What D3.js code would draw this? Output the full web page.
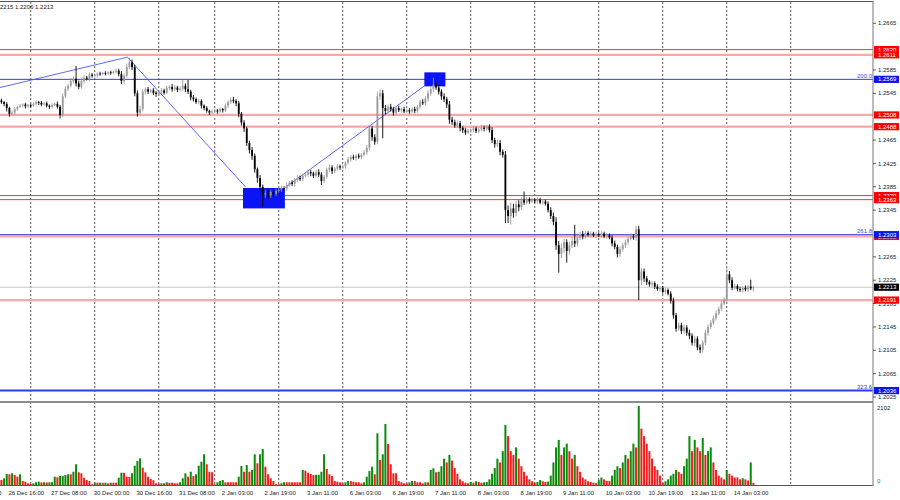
<!DOCTYPE html>
<html><head><meta charset="utf-8">
<script src="https://cdn.jsdelivr.net/npm/d3@7"></script>
<style>
body{margin:0;background:#fff}
svg{display:block}
text{font-family:"Liberation Sans",Arial,sans-serif;font-size:6px}
</style>
</head><body>
<svg id="c" width="900" height="500"></svg>
<script>
// ---------- DATA ----------
const sessions = [["26 Dec",0,23],["27 Dec",0,23],["30 Dec",0,23],["31 Dec",0,20],["2 Jan",0,23],["3 Jan",0,23],
  ["6 Jan",0,23],["7 Jan",0,23],["8 Jan",0,23],["9 Jan",0,23],["10 Jan",0,23],["13 Jan",0,23],["14 Jan",0,23],["15 Jan",0,0]];
const firstBar = "26 Dec 13:00";
const firstOpen = 1.2533;
const closes = [
 1.2530,1.2527,1.2520,1.2510,1.2512,1.2518,1.2522,1.2524,1.2526,1.2523,1.2525,
 1.2524,1.2527,1.2530,1.2529,1.2526,1.2528,1.2524,1.2522,1.2525,1.2527,1.2522,1.2508,1.2540,1.2553,1.2558,1.2566,1.2570,1.2562,1.2556,1.2566,1.2572,1.2570,1.2577,1.2575,
 1.2576,1.2579,1.2578,1.2580,1.2579,1.2581,1.2580,1.2582,1.2584,1.2578,1.2566,1.2575,1.2590,1.2598,1.2590,1.2545,1.2512,1.2518,1.2548,1.2552,1.2548,1.2550,1.2546,1.2544,
 1.2548,1.2550,1.2546,1.2554,1.2556,1.2552,1.2555,1.2551,1.2553,1.2558,1.2552,1.2548,1.2538,1.2535,1.2530,1.2532,1.2524,1.2520,1.2515,1.2512,1.2514,
 1.2516,1.2514,1.2518,1.2516,1.2524,1.2530,1.2534,1.2532,1.2528,1.2510,1.2495,1.2485,1.2460,1.2448,1.2438,1.2415,1.2400,1.2385,1.2372,1.2374,1.2370,1.2376,1.2373,1.2378,
 1.2380,1.2383,1.2382,1.2388,1.2392,1.2390,1.2397,1.2400,1.2398,1.2404,1.2406,1.2410,1.2408,1.2404,1.2410,1.2406,1.2395,1.2402,1.2414,1.2418,1.2412,1.2416,1.2420,1.2418,
 1.2420,1.2426,1.2432,1.2436,1.2434,1.2438,1.2436,1.2440,1.2444,1.2452,1.2485,1.2470,1.2462,1.2540,1.2545,1.2520,1.2515,1.2522,1.2518,1.2512,1.2520,1.2516,1.2518,1.2514,
 1.2516,1.2514,1.2518,1.2515,1.2522,1.2530,1.2528,1.2536,1.2545,1.2552,1.2560,1.2555,1.2548,1.2540,1.2535,1.2526,1.2500,1.2496,1.2490,1.2494,1.2486,1.2482,1.2478,1.2481,
 1.2482,1.2485,1.2480,1.2483,1.2486,1.2484,1.2488,1.2482,1.2465,1.2458,1.2460,1.2445,1.2440,1.2345,1.2335,1.2348,1.2340,1.2355,1.2350,1.2362,1.2358,1.2364,1.2360,1.2362,
 1.2360,1.2363,1.2358,1.2360,1.2356,1.2345,1.2335,1.2325,1.2285,1.2270,1.2280,1.2290,1.2275,1.2285,1.2292,1.2288,1.2298,1.2304,1.2300,1.2306,1.2303,1.2305,1.2302,1.2304,
 1.2302,1.2305,1.2300,1.2302,1.2298,1.2288,1.2282,1.2270,1.2278,1.2285,1.2290,1.2296,1.2300,1.2298,1.2312,1.2225,1.2240,1.2228,1.2222,1.2218,1.2220,1.2214,1.2210,1.2212,
 1.2205,1.2208,1.2202,1.2190,1.2165,1.2142,1.2148,1.2138,1.2144,1.2135,1.2130,1.2118,1.2125,1.2110,1.2106,1.2118,1.2135,1.2145,1.2152,1.2160,1.2168,1.2176,1.2185,1.2192,
 1.2235,1.2225,1.2212,1.2215,1.2210,1.2208,1.2212,1.2209,1.2214,1.2211,1.2213];
// upper / lower wick lengths in pips
const wickUp = [
 3,2,3,2,4,3,2,3,2,3,2,
 2,3,3,2,3,2,3,2,3,2,4,3,5,4,3,6,4,22,5,6,4,3,4,3,
 3,2,3,2,3,2,3,2,4,3,5,4,6,8,5,4,5,6,4,3,4,3,4,3,
 3,4,3,4,3,5,4,3,4,10,4,16,3,4,3,4,3,2,3,2,3,
 3,2,3,2,4,3,4,5,3,4,3,4,3,4,5,4,3,5,4,6,5,4,3,4,
 3,4,3,4,3,4,3,5,4,3,4,5,4,3,4,5,4,3,4,5,4,3,4,3,
 3,3,4,3,4,3,4,3,4,5,6,4,5,8,7,6,5,4,5,4,3,4,3,4,
 3,4,3,4,3,4,5,4,5,6,12,5,5,4,5,4,6,5,4,5,4,3,4,3,
 3,4,3,4,5,4,3,4,5,4,6,5,4,6,8,10,8,6,7,5,15,4,3,4,
 3,4,3,4,3,4,5,6,8,7,8,6,5,6,7,28,5,4,5,4,3,4,3,4,
 3,4,3,4,3,4,5,4,5,4,5,4,5,4,6,6,6,5,4,3,4,3,4,3,
 3,4,3,4,5,4,5,4,5,4,5,4,5,4,5,4,5,4,5,4,5,4,5,4,
 13,6,5,4,3,4,3,4,3,12,2];
const wickDn = [
 3,4,6,5,3,4,3,2,3,4,3,
 3,2,3,4,3,2,3,4,3,2,3,6,4,3,4,3,4,5,4,3,4,3,4,3,
 3,4,3,2,3,2,3,2,3,4,5,4,3,4,5,5,7,5,4,5,4,3,4,5,
 3,4,3,2,3,4,3,4,3,4,5,4,5,4,3,4,5,4,3,4,3,
 3,4,3,4,3,4,3,4,5,6,5,6,5,6,7,6,8,7,21,6,5,4,5,4,
 3,4,3,4,3,4,5,4,3,4,3,4,5,4,3,4,7,4,3,4,5,4,3,4,
 3,4,3,4,3,4,3,4,3,4,5,6,5,4,6,52,6,5,4,5,4,3,4,3,
 3,4,3,4,3,4,3,4,5,4,5,4,5,6,5,6,7,5,4,5,6,5,4,3,
 3,4,3,4,3,4,3,4,5,6,5,6,5,22,12,15,8,6,7,5,4,3,4,3,
 3,4,3,4,3,4,5,6,8,32,7,8,20,6,5,6,5,4,5,4,3,4,3,4,
 3,4,3,4,3,5,4,6,5,4,5,4,3,4,5,34,8,6,5,4,5,4,3,4,
 3,4,3,5,6,5,4,5,4,5,6,5,6,5,6,5,4,5,4,3,4,3,4,3,
 4,5,4,3,4,3,4,3,4,3,5];
const volumes = [
 133,178,293,285,311,266,221,285,106,88,45,
 27,45,72,88,70,74,68,72,75,221,205,239,240,266,285,285,354,551,338,311,194,133,106,19,
 61,61,62,60,61,45,61,61,61,194,327,325,221,218,311,513,638,710,460,338,221,160,125,45,
 40,45,45,72,60,60,45,45,72,178,311,221,354,239,285,513,620,817,551,354,338,
 19,72,106,133,72,72,72,72,72,221,505,354,532,354,399,817,577,817,958,487,285,178,106,19,
 19,45,72,72,72,72,72,72,72,399,380,327,293,266,270,272,354,817,426,285,239,106,88,72,
 45,72,106,106,88,72,72,45,72,221,372,487,285,1375,665,817,1623,1091,551,311,311,106,72,45,
 45,72,106,106,72,72,45,72,72,399,444,338,354,500,700,600,800,650,450,300,150,100,60,45,
 80,60,100,80,60,70,80,150,300,450,700,600,900,1600,1300,900,800,1000,700,500,350,250,150,100,
 60,80,130,100,80,90,250,600,1000,1200,800,1000,1100,900,700,800,500,350,200,150,100,80,60,50,
 130,200,150,110,110,250,400,500,450,600,800,700,900,1100,1000,2102,1500,1300,1100,900,700,500,400,250,
 60,100,150,250,300,400,350,300,500,700,1300,900,1200,1000,900,1250,800,900,1000,600,400,250,200,150,
 400,300,250,200,200,150,180,150,120,600,60];
const timeLabels = ["26 Dec 00:00","26 Dec 16:00","27 Dec 08:00","30 Dec 00:00","30 Dec 16:00","31 Dec 08:00",
 "2 Jan 03:00","2 Jan 19:00","3 Jan 11:00","6 Jan 03:00","6 Jan 19:00","7 Jan 11:00","8 Jan 03:00","8 Jan 19:00",
 "9 Jan 11:00","10 Jan 03:00","10 Jan 19:00","13 Jan 11:00","14 Jan 03:00"];
// visible price-axis ticks (those hidden under level tags are omitted)
const priceTicks = [1.2665,1.2585,1.2545,1.2465,1.2425,1.2385,1.2345,1.2265,1.2225,1.2185,1.2145,1.2105,1.2065,1.2025];
const levelPrices = [1.2620,1.2611,1.2569,1.2508,1.2488,1.2370,1.2363,1.2300,1.2303,1.2213,1.2191,1.2036];
const levelKinds  = ["red","pink","blue","pink","pink","red","red","pink","blue","current","pink","blueThick"];
const fibLabels = ["200.0","261.8","323.6"];
const fibLabelPrices = [1.2569,1.2303,1.2036];
// zigzag anchors: bar offset from first bar, price
const zigBars   = [-0.5, 47.3, 91.5, 106.5, 159];
const zigPrices = [1.2555, 1.2607, 1.2385, 1.2384, 1.2559];
const boxBars   = [[90.6,106.3],[158.6,166.5]];
const boxPrices = [[1.2383,1.2348],[1.2581,1.2557]];
const volumeMax = 2102;
const headerText = "1.2215 1.2206 1.2213";

// ---------- BUILD ----------
const times = [];
sessions.forEach(([d,h0,h1]) => { for (let h=h0; h<=h1; h++) times.push({label:`${d} ${String(h).padStart(2,"0")}:00`, hour:h}); });
const first = times.findIndex(t => t.label === firstBar);
const n = closes.length;
const bars = closes.map((c,i) => {
  const o = i ? closes[i-1] : firstOpen;
  return {i, o, c, h: Math.max(o,c) + wickUp[i]*1e-4, l: Math.min(o,c) - wickDn[i]*1e-4, v: volumes[i]};
});

const svg = d3.select("#c");
const W = 900, plotR = 873, mainTop = 2, mainBot = 401, volTop = 403, volBot = 485;
const x = d3.scaleLinear().domain([first, first + n - 1]).range([1.4, 1.4 + (n-1)*2.6667]);
const xb = i => x(first + i);
const y = d3.scaleLinear().domain([1.2665, 1.2025]).range([23.3, 397]);
const yv = d3.scaleLinear().domain([0, volumeMax]).range([volBot, 406]);

const defs = svg.append("defs");
defs.append("clipPath").attr("id","cm").append("rect").attr("x",0).attr("y",mainTop).attr("width",plotR).attr("height",mainBot-mainTop);
defs.append("clipPath").attr("id","cv").append("rect").attr("x",0).attr("y",volTop).attr("width",plotR).attr("height",volBot-volTop);
defs.append("clipPath").attr("id","ca").append("rect").attr("x",0).attr("y",0).attr("width",W).attr("height",500);

// grid (day starts)
const gridIdx = times.map((t,k)=>({t,k})).filter(d => d.t.hour === 0 && d.k >= first).map(d => d.k);
svg.append("g").selectAll("line").data(gridIdx).join("line")
  .attr("x1", d => x(d)).attr("x2", d => x(d)).attr("y1", mainTop).attr("y2", volBot)
  .attr("stroke", "#444").attr("stroke-width", 0.9).attr("stroke-dasharray", "2,2");

const gm = svg.append("g").attr("clip-path","url(#cm)");

// level lines
const lineStyle = {
  red:{stroke:"#f03a3a", w:1}, pink:{stroke:"#f8a9a9", w:2.2}, blue:{stroke:"#3a3ad8", w:1},
  blueThick:{stroke:"#2a3cf0", w:2}, current:{stroke:"#c8c8c8", w:1}
};
gm.append("g").selectAll("line").data(levelPrices).join("line")
  .attr("x1",0).attr("x2",plotR).attr("y1",d=>y(d)).attr("y2",d=>y(d))
  .attr("stroke",(d,i)=>lineStyle[levelKinds[i]].stroke).attr("stroke-width",(d,i)=>lineStyle[levelKinds[i]].w);

// boxes
gm.append("g").selectAll("rect").data(boxBars).join("rect")
  .attr("x", (d)=>xb(d[0])).attr("width",(d)=>xb(d[1])-xb(d[0]))
  .attr("y", (d,i)=>y(boxPrices[i][0])).attr("height",(d,i)=>y(boxPrices[i][1])-y(boxPrices[i][0]))
  .attr("fill","#0a14f5");

// zigzag
const zz = zigBars.map((b,i)=>[xb(b), y(zigPrices[i])]);
const segs = [[zz[0],zz[1]],[zz[1],zz[2]],[zz[3],zz[4]]];
gm.append("g").selectAll("line").data(segs).join("line")
  .attr("x1",d=>d[0][0]).attr("y1",d=>d[0][1]).attr("x2",d=>d[1][0]).attr("y2",d=>d[1][1])
  .attr("stroke","#4a5af2").attr("stroke-width",0.9);

// candles
const cg = gm.append("g");
const col = d => d.c >= d.o ? "#9a9a9a" : "#000";
cg.selectAll("line").data(bars).join("line")
  .attr("x1",d=>xb(d.i)).attr("x2",d=>xb(d.i)).attr("y1",d=>y(d.h)).attr("y2",d=>y(d.l))
  .attr("stroke",col).attr("stroke-width",0.9);
cg.selectAll("rect").data(bars).join("rect")
  .attr("x",d=>xb(d.i)-0.9).attr("width",1.8)
  .attr("y",d=>y(Math.max(d.o,d.c))).attr("height",d=>Math.max(0.8, Math.abs(y(d.o)-y(d.c))))
  .attr("fill",col);

// fib labels
svg.append("g").selectAll("text").data(fibLabels).join("text")
  .attr("x", plotR-1).attr("y",(d,i)=>y(fibLabelPrices[i])-1.5).attr("text-anchor","end")
  .attr("fill","#3c46f0").text(d=>d);

// volumes
const gv = svg.append("g").attr("clip-path","url(#cv)");
gv.selectAll("rect").data(bars).join("rect")
  .attr("x",d=>xb(d.i)-1).attr("width",2)
  .attr("y",d=>yv(d.v)).attr("height",d=>volBot-yv(d.v))
  .attr("fill",(d,i)=> i>0 && d.v > bars[i-1].v ? "#0a8a0a" : "#f21c1c");

// frames
svg.append("line").attr("x1",0).attr("x2",plotR+0.5).attr("y1",1.5).attr("y2",1.5).attr("stroke","#555").attr("stroke-width",1);
svg.append("rect").attr("x",0).attr("y",mainBot).attr("width",plotR).attr("height",2).attr("fill","#8c8c8c");
svg.append("line").attr("x1",0).attr("x2",plotR+0.5).attr("y1",volBot+0.5).attr("y2",volBot+0.5).attr("stroke","#555").attr("stroke-width",1);
svg.append("line").attr("x1",plotR).attr("x2",plotR).attr("y1",1).attr("y2",volBot+1).attr("stroke","#8c8c8c").attr("stroke-width",1.2);

// price axis
const ax = svg.append("g");
ax.selectAll("line").data(priceTicks).join("line")
  .attr("x1",plotR).attr("x2",plotR+3).attr("y1",d=>y(d)).attr("y2",d=>y(d)).attr("stroke","#333").attr("stroke-width",0.8);
ax.selectAll("text").data(priceTicks).join("text")
  .attr("x",plotR+5).attr("y",d=>y(d)).attr("dy","0.35em").attr("fill","#222").text(d=>d.toFixed(4));

// level price tags
const tagFill = {red:"#ff0000", pink:"#ff0000", blue:"#0a14f5", blueThick:"#0a14f5", current:"#000"};
const tags = svg.append("g");
levelPrices.forEach((p,i)=>{
  const g = tags.append("g");
  g.append("rect").attr("x",plotR+1).attr("y",y(p)-3.6).attr("width",W-plotR-2).attr("height",7.2).attr("fill",tagFill[levelKinds[i]]);
  g.append("text").attr("x",plotR+5).attr("y",y(p)).attr("dy","0.35em").attr("fill","#fff").text(p.toFixed(4));
});

// volume axis
svg.append("text").attr("x",plotR+4).attr("y",408).attr("dy","0.35em").attr("fill","#222").text(String(volumeMax));
svg.append("text").attr("x",plotR+4).attr("y",481).attr("dy","0.35em").attr("fill","#2a6ad8").text("0");

// time labels
svg.append("g").attr("clip-path","url(#ca)").selectAll("text").data(timeLabels).join("text")
  .attr("x", d => x(times.findIndex(t=>t.label===d)) - 1).attr("y",492.5).attr("dy","0.35em").attr("fill","#222").text(d=>d);

// header
svg.append("text").attr("x",-5).attr("y",6.5).attr("dy","0.35em").attr("fill","#222").text(headerText);
</script>
</body></html>
